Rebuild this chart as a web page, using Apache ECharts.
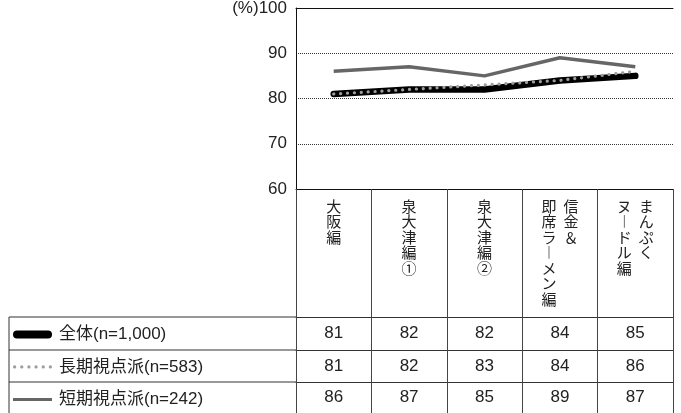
<!DOCTYPE html>
<html>
<head>
<meta charset="utf-8">
<script src="https://cdn.jsdelivr.net/npm/echarts@6/dist/echarts.min.js"></script>
<style>
  html, body { margin: 0; padding: 0; background: #fff; }
  #chart { width: 681px; height: 413px; }
</style>
</head>
<body>
<div id="chart"></div>
<script>
// Categories, with each name split into the vertical columns it is set in
// (first entry = rightmost column).
const categories = ['大阪編', '泉大津編①', '泉大津編②', '信金&即席ラーメン編', 'まんぷくヌードル編'];
const categoryColumns = [
  ['大阪編'],
  ['泉大津編①'],
  ['泉大津編②'],
  ['信金&', '即席ラーメン編'],
  ['まんぷく', 'ヌードル編']
];

const seriesNames = ['全体(n=1,000)', '長期視点派(n=583)', '短期視点派(n=242)'];
const overall = [81, 82, 82, 84, 85];
const longTerm = [81, 82, 83, 84, 86];
const shortTerm = [86, 87, 85, 89, 87];
const tableRows = [overall, longTerm, shortTerm];

const yTicks = { min: 60, max: 100, interval: 10 };

const FONT = '"Liberation Sans", "Noto Sans CJK JP", sans-serif';
const INK = '#222';

const COLOR_ALL = '#000';
const COLOR_LONG = '#9d9d9d';
const COLOR_SHORT = '#666';

// vertical setting: one rich-text cell per character, columns laid right to left
const verticalForms = { 'ー': '︱', '&': '＆' };
function verticalLabel(value, index) {
  const cols = categoryColumns[index];
  const vert = s => Array.from(s).map(ch => verticalForms[ch] || ch);
  const chars = cols.map(vert);
  const rows = Math.max(...chars.map(c => c.length));
  const lines = [];
  for (let r = 0; r < rows; r++) {
    let line = '';
    for (let c = chars.length - 1; c >= 0; c--) {
      const ch = chars[c][r] || '　';
      line += '{c|' + ch + '}';
    }
    lines.push(line);
  }
  return lines.join('\n');
}

// legend keys: thick rounded bar, row of dots, plain bar
function dotsPath(n, step, r) {
  let d = '';
  for (let i = 0; i < n; i++) {
    const cx = r + i * step;
    d += 'M' + cx + ',0 A' + r + ',' + r + ' 0 1 1 ' + cx + ',' + (2 * r) +
         ' A' + r + ',' + r + ' 0 1 1 ' + cx + ',0 Z ';
  }
  return d;
}
const ICON_ALL = 'path://M4,0 H35 A4,4 0 0 1 35,8 H4 A4,4 0 0 1 4,0 Z';
const ICON_LONG = 'path://' + dotsPath(6, 6.6, 1.5);
const ICON_SHORT = 'path://M0,0 H37 V3 H0 Z';

const chart = echarts.init(document.getElementById('chart'), null, { renderer: 'canvas' });

const rowOffsets = [128, 161, 193];
const rowHeights = [33, 32, 31];

const tableAxes = tableRows.map((vals, k) => ({
  type: 'category',
  data: categories,
  gridIndex: 0,
  position: 'bottom',
  offset: rowOffsets[k],
  boundaryGap: true,
  axisLine: { show: true, lineStyle: { color: '#333', width: 1 } },
  axisTick: { show: true, length: k === 2 ? 40 : rowHeights[k], lineStyle: { color: '#444', width: 1 } },
  axisLabel: {
    show: true,
    interval: 0,
    margin: rowHeights[k] / 2,
    verticalAlign: 'middle',
    fontSize: 17,
    fontFamily: FONT,
    color: INK,
    formatter: (v, i) => String(vals[i])
  },
  splitLine: { show: false }
}));

chart.setOption({
  animation: false,
  backgroundColor: '#fff',
  grid: { left: 296, right: 8, top: 8, bottom: 224, outerBoundsMode: 'none', containLabel: false },
  legend: {
    orient: 'vertical',
    left: 13,
    top: 326,
    padding: 0,
    itemWidth: 39,
    itemHeight: 16,
    itemGap: 15.5,
    selectedMode: false,
    textStyle: { fontSize: 17, fontFamily: FONT, color: INK, lineHeight: 16, padding: [0, 0, 0, 2] },
    data: [
      { name: seriesNames[0], icon: ICON_ALL, itemStyle: { color: COLOR_ALL, borderWidth: 0 } },
      { name: seriesNames[1], icon: ICON_LONG, itemStyle: { color: COLOR_LONG, borderWidth: 0 } },
      { name: seriesNames[2], icon: ICON_SHORT, itemStyle: { color: COLOR_SHORT, borderWidth: 0 } }
    ]
  },
  xAxis: [
    {
      type: 'category',
      data: categories,
      position: 'bottom',
      boundaryGap: true,
      axisLine: { show: true, lineStyle: { color: '#111', width: 1 } },
      axisTick: { show: true, length: 128, lineStyle: { color: '#444', width: 1 } },
      axisLabel: {
        show: true,
        interval: 0,
        margin: 11,
        formatter: verticalLabel,
        rich: {
          c: { width: 22, align: 'center', fontSize: 15, lineHeight: 15.5, fontFamily: FONT, color: INK }
        }
      },
      splitLine: { show: false }
    },
    {
      type: 'category',
      data: categories,
      position: 'top',
      boundaryGap: true,
      axisLine: { show: true, lineStyle: { color: '#111', width: 1 } },
      axisTick: { show: false },
      axisLabel: { show: false },
      splitLine: { show: false }
    },
    ...tableAxes
  ],
  yAxis: {
    type: 'value',
    min: yTicks.min,
    max: yTicks.max,
    interval: yTicks.interval,
    axisLine: { show: true, lineStyle: { color: '#111', width: 1 } },
    axisTick: { show: false },
    axisLabel: {
      margin: 9,
      fontSize: 17,
      fontFamily: FONT,
      color: INK,
      formatter: v => (v === yTicks.max ? '(%)' + v : String(v))
    },
    splitLine: { show: true, lineStyle: { color: '#333', width: 1, type: [1, 1] } }
  },
  series: [
    {
      name: seriesNames[0],
      type: 'line',
      data: overall,
      symbol: 'none',
      color: COLOR_ALL,
      lineStyle: { color: COLOR_ALL, width: 6.5, cap: 'round', join: 'round' },
      z: 2
    },
    {
      name: seriesNames[1],
      type: 'line',
      data: longTerm,
      symbol: 'none',
      color: COLOR_LONG,
      lineStyle: { color: COLOR_LONG, width: 3.2, type: [0.1, 6.8], cap: 'round', join: 'round' },
      z: 3
    },
    {
      name: seriesNames[2],
      type: 'line',
      data: shortTerm,
      symbol: 'none',
      color: COLOR_SHORT,
      lineStyle: { color: COLOR_SHORT, width: 3.5, cap: 'butt', join: 'round' },
      z: 4
    }
  ],
  graphic: [
    // left part of the table rules and its outer left edge
    { type: 'line', shape: { x1: 9, y1: 317, x2: 296, y2: 317 }, style: { stroke: '#333', lineWidth: 1 }, silent: true },
    { type: 'line', shape: { x1: 9, y1: 350, x2: 296, y2: 350 }, style: { stroke: '#333', lineWidth: 1 }, silent: true },
    { type: 'line', shape: { x1: 9, y1: 382, x2: 296, y2: 382 }, style: { stroke: '#333', lineWidth: 1 }, silent: true },
    { type: 'line', shape: { x1: 9, y1: 317, x2: 9, y2: 413 }, style: { stroke: '#333', lineWidth: 1 }, silent: true }
  ]
});
</script>
</body>
</html>
